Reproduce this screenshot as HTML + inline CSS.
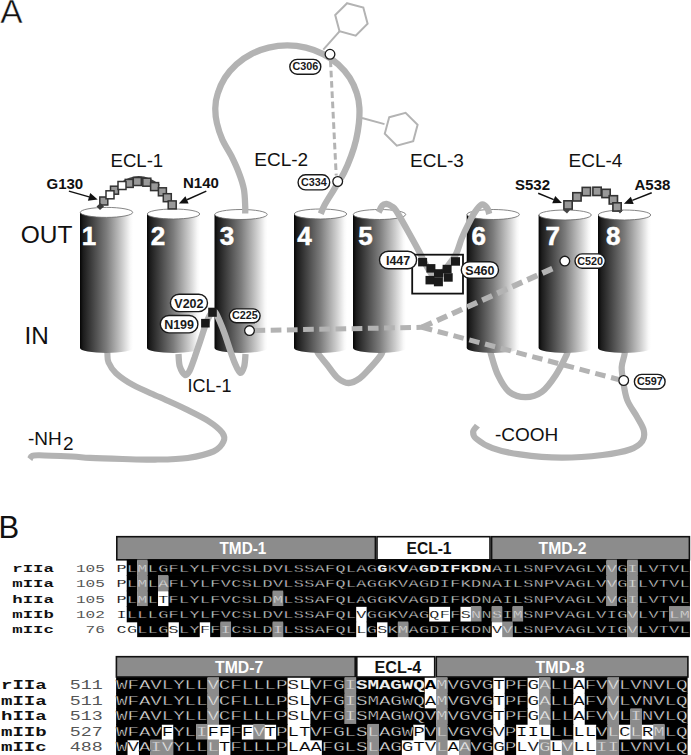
<!DOCTYPE html><html><head><meta charset="utf-8"><style>html,body{margin:0;padding:0;background:#fff;width:691px;height:755px;overflow:hidden}svg{display:block}</style></head><body>
<svg width="691" height="755" viewBox="0 0 691 755" font-family="Liberation Sans, sans-serif">
<defs><linearGradient id="cg" x1="0" x2="1" y1="0" y2="0"><stop offset="0" stop-color="#050505"/><stop offset="0.06" stop-color="#1c1c1c"/><stop offset="0.5" stop-color="#7c7c7c"/><stop offset="0.8" stop-color="#cdcdcd"/><stop offset="0.95" stop-color="#f8f8f8"/><stop offset="1" stop-color="#fff"/></linearGradient></defs>
<rect width="691" height="755" fill="#fff"/>
<text x="0.3" y="23.3" font-size="33.5" fill="#111" stroke="#fff" stroke-width="0.5">A</text>
<text x="-1.5" y="538.1" font-size="31" fill="#111">B</text>
<path d="M317.0,350.0 C317.3,350.7 317.0,351.9 318.7,354.3 C320.4,356.8 324.0,360.8 327.1,364.7 C330.2,368.6 334.0,374.8 337.6,377.8 C341.2,380.9 344.9,382.9 348.6,383.0 C352.3,383.1 356.1,380.9 359.7,378.4 C363.3,375.9 366.6,371.8 370.1,368.0 C373.6,364.2 378.4,358.6 380.5,355.6 C382.6,352.6 382.6,350.9 383.0,350.0" fill="none" stroke="#b3b3b3" stroke-width="6.3" stroke-linecap="butt" stroke-linejoin="round"/>
<path d="M490.5,350.0 C490.6,350.8 489.9,350.4 491.1,354.6 C492.4,358.8 495.0,369.0 498.0,375.2 C501.0,381.4 504.4,388.0 509.0,391.7 C513.6,395.4 520.0,397.2 525.5,397.2 C531.0,397.2 537.0,395.4 542.0,391.7 C547.0,388.0 551.6,381.4 555.7,375.2 C559.8,369.0 564.7,358.8 566.7,354.6 C568.7,350.4 567.4,350.8 567.5,350.0" fill="none" stroke="#b3b3b3" stroke-width="6.3" stroke-linecap="butt" stroke-linejoin="round"/>
<path d="M107.2,348.0 C107.2,348.9 107.2,351.3 107.4,353.7 C107.6,356.1 107.1,359.1 108.5,362.4 C109.9,365.6 111.8,369.4 116.0,373.2 C120.2,377.0 126.2,381.2 133.4,385.2 C140.7,389.2 150.8,393.1 159.5,397.1 C168.2,401.1 177.4,405.0 185.5,409.0 C193.6,413.0 202.2,417.0 208.3,421.0 C214.5,425.0 219.9,429.5 222.4,432.9 C224.9,436.3 224.9,438.5 223.5,441.6 C222.1,444.7 219.7,448.7 213.7,451.4 C207.7,454.1 197.5,456.5 187.7,457.9 C177.9,459.3 165.9,459.4 155.1,459.6 C144.2,459.8 133.4,459.3 122.6,459.0 C111.8,458.7 98.4,458.3 90.0,457.9 C81.6,457.5 80.5,456.9 72.1,456.5 C63.7,456.1 46.2,455.3 39.5,455.2 C32.8,455.1 33.6,455.3 32.0,456.0 C30.4,456.7 30.2,458.7 29.8,459.2" fill="none" stroke="#b3b3b3" stroke-width="6.1" stroke-linecap="butt" stroke-linejoin="round"/>
<path d="M625.0,349.0 C624.9,349.9 625.0,351.6 624.5,354.6 C624.0,357.6 621.9,362.6 621.7,367.0 C621.5,371.4 622.2,375.2 623.1,380.7 C624.0,386.2 624.9,394.0 627.2,400.0 C629.5,406.0 634.0,411.5 636.8,416.5 C639.5,421.5 642.8,426.1 643.7,430.2 C644.6,434.3 644.6,438.0 642.3,441.2 C640.0,444.4 636.6,447.2 630.0,449.5 C623.4,451.8 614.0,453.6 602.5,455.0 C591.0,456.4 575.0,457.8 561.2,457.7 C547.5,457.6 531.5,456.0 520.0,454.4 C508.6,452.8 499.8,450.8 492.5,448.1 C485.2,445.5 479.2,441.2 476.0,438.5 C472.8,435.8 473.0,433.8 473.2,431.6 C473.4,429.5 476.7,426.6 477.4,425.6" fill="none" stroke="#b3b3b3" stroke-width="6.2" stroke-linecap="butt" stroke-linejoin="round"/>
<path d="M80.0,212.4 L80.0,348.0 A26.5,5.0 0 0 0 133.0,348.0 L133.0,212.4 Z" fill="url(#cg)"/>
<ellipse cx="106.5" cy="212.4" rx="26.2" ry="5.0" fill="#fff" stroke="#666" stroke-width="0.8"/>
<path d="M147.0,214.0 L147.0,348.0 A26.5,5.0 0 0 0 200.0,348.0 L200.0,214.0 Z" fill="url(#cg)"/>
<ellipse cx="173.5" cy="214.0" rx="26.2" ry="5.0" fill="#fff" stroke="#666" stroke-width="0.8"/>
<path d="M214.5,214.5 L214.5,348.0 A26.5,5.0 0 0 0 267.5,348.0 L267.5,214.5 Z" fill="url(#cg)"/>
<ellipse cx="241.0" cy="214.5" rx="26.2" ry="5.0" fill="#fff" stroke="#666" stroke-width="0.8"/>
<path d="M294.0,214.0 L294.0,348.0 A26.5,5.0 0 0 0 347.0,348.0 L347.0,214.0 Z" fill="url(#cg)"/>
<ellipse cx="320.5" cy="214.0" rx="26.2" ry="5.0" fill="#fff" stroke="#666" stroke-width="0.8"/>
<path d="M353.0,214.5 L353.0,348.0 A26.5,5.0 0 0 0 406.0,348.0 L406.0,214.5 Z" fill="url(#cg)"/>
<ellipse cx="379.5" cy="214.5" rx="26.2" ry="5.0" fill="#fff" stroke="#666" stroke-width="0.8"/>
<path d="M466.7,214.5 L466.7,348.0 A26.5,5.0 0 0 0 519.7,348.0 L519.7,214.5 Z" fill="url(#cg)"/>
<ellipse cx="493.2" cy="214.5" rx="26.2" ry="5.0" fill="#fff" stroke="#666" stroke-width="0.8"/>
<path d="M538.6,215.0 L538.6,348.0 A26.5,5.0 0 0 0 591.6,348.0 L591.6,215.0 Z" fill="url(#cg)"/>
<ellipse cx="565.1" cy="215.0" rx="26.2" ry="5.0" fill="#fff" stroke="#666" stroke-width="0.8"/>
<path d="M598.0,215.0 L598.0,348.0 A26.5,5.0 0 0 0 651.0,348.0 L651.0,215.0 Z" fill="url(#cg)"/>
<ellipse cx="624.5" cy="215.0" rx="26.2" ry="5.0" fill="#fff" stroke="#666" stroke-width="0.8"/>
<text x="81.7" y="244.8" font-size="26" font-weight="bold" fill="#fff" stroke="#fff" stroke-width="0.5">1</text>
<text x="150.8" y="244.8" font-size="26" font-weight="bold" fill="#fff" stroke="#fff" stroke-width="0.5">2</text>
<text x="219.8" y="244.8" font-size="26" font-weight="bold" fill="#fff" stroke="#fff" stroke-width="0.5">3</text>
<text x="297.3" y="244.8" font-size="26" font-weight="bold" fill="#fff" stroke="#fff" stroke-width="0.5">4</text>
<text x="358.2" y="244.8" font-size="26" font-weight="bold" fill="#fff" stroke="#fff" stroke-width="0.5">5</text>
<text x="471.5" y="244.8" font-size="26" font-weight="bold" fill="#fff" stroke="#fff" stroke-width="0.5">6</text>
<text x="545.5" y="244.8" font-size="26" font-weight="bold" fill="#fff" stroke="#fff" stroke-width="0.5">7</text>
<text x="606.0" y="244.8" font-size="26" font-weight="bold" fill="#fff" stroke="#fff" stroke-width="0.5">8</text>
<path d="M245.2,213.5 C245.2,212.2 245.4,209.9 245.2,205.9 C245.0,201.9 244.9,194.8 243.9,189.3 C242.9,183.8 241.0,178.3 238.9,172.8 C236.8,167.3 234.2,161.7 231.5,156.2 C228.8,150.7 224.8,145.2 222.4,139.7 C220.0,134.2 218.1,128.4 216.9,123.1 C215.7,117.8 215.2,113.0 215.3,108.0 C215.4,103.0 216.1,98.3 217.8,93.3 C219.4,88.2 221.8,82.5 224.9,77.7 C228.1,72.9 232.0,68.3 236.4,64.3 C240.8,60.4 245.9,56.8 251.3,54.1 C256.7,51.3 262.7,49.0 268.7,47.6 C274.7,46.2 281.1,45.4 287.3,45.4 C293.5,45.4 299.9,46.2 305.9,47.6 C311.9,49.0 317.9,51.3 323.3,54.1 C328.7,56.8 333.8,60.4 338.2,64.3 C342.6,68.3 346.5,72.9 349.7,77.7 C352.8,82.5 355.2,88.2 356.8,93.3 C358.5,98.3 359.1,103.0 359.4,108.0 C359.7,113.0 359.4,117.8 358.9,123.1 C358.3,128.4 357.4,134.2 356.1,139.7 C354.8,145.2 353.1,150.7 351.1,156.2 C349.1,161.7 346.8,167.3 344.0,172.8 C341.2,178.3 337.4,183.8 334.1,189.3 C330.8,194.8 326.3,201.8 324.1,205.9 C321.9,210.0 321.4,212.5 320.8,213.8" fill="none" stroke="#b3b3b3" stroke-width="6.3" stroke-linecap="butt" stroke-linejoin="round"/>
<path d="M378.7,212.2 C379.3,211.1 380.9,207.0 382.2,205.6 C383.5,204.2 384.9,203.8 386.5,203.9 C388.1,204.1 390.4,205.4 392.0,206.5 C393.6,207.6 393.9,207.4 396.0,210.6 C398.1,213.8 401.8,220.3 404.7,225.4 C407.6,230.5 410.9,236.5 413.4,241.0 C415.9,245.5 417.4,248.3 419.5,252.3 C421.6,256.3 423.9,261.2 426.0,265.0 C428.1,268.8 430.2,272.5 432.0,275.0 C433.8,277.5 436.2,279.2 437.0,280.0" fill="none" stroke="#b3b3b3" stroke-width="6.3" stroke-linecap="butt" stroke-linejoin="round"/>
<path d="M437.0,280.0 C438.7,277.8 443.8,271.3 447.0,267.0 C450.2,262.7 453.7,258.8 456.1,254.0 C458.6,249.2 459.6,243.5 461.7,238.4 C463.8,233.3 466.4,227.9 468.6,223.6 C470.8,219.3 472.5,215.6 474.7,212.4 C476.9,209.2 479.6,205.2 481.7,204.5 C483.8,203.8 486.1,206.6 487.3,208.2 C488.6,209.8 488.9,213.0 489.2,214.0" fill="none" stroke="#b3b3b3" stroke-width="6.3" stroke-linecap="butt" stroke-linejoin="round"/>
<path d="M178.5,354.0 C178.7,356.1 178.7,362.9 179.8,366.4 C180.9,369.9 183.4,374.1 185.0,374.9 C186.6,375.7 187.9,373.9 189.5,371.0 C191.1,368.1 192.9,362.2 194.7,357.3 C196.4,352.4 198.2,346.9 200.0,341.7 C201.8,336.5 203.5,330.6 205.2,326.0 C206.9,321.4 208.8,316.7 210.4,314.3 C212.0,311.9 213.4,310.6 214.9,311.7 C216.4,312.8 217.9,317.1 219.5,320.8 C221.1,324.5 223.0,329.1 224.7,333.9 C226.4,338.7 228.2,344.5 229.9,349.5 C231.6,354.5 233.4,359.9 235.1,363.8 C236.8,367.7 238.8,372.5 240.3,372.9 C241.8,373.3 243.3,369.5 244.2,366.4 C245.1,363.2 245.3,356.1 245.5,354.0" fill="none" stroke="#b3b3b3" stroke-width="6.3" stroke-linecap="butt" stroke-linejoin="round"/>
<polygon points="347.1,3.2 363.3,7.5 367.6,23.7 355.7,35.6 339.5,31.3 335.2,15.1" fill="none" stroke="#b3b3b3" stroke-width="2"/>
<line x1="323.3" y1="49.6" x2="339.5" y2="31.4" stroke="#b3b3b3" stroke-width="2"/>
<polygon points="389.2,117.2 405.6,112.8 417.6,124.8 413.2,141.2 396.8,145.6 384.8,133.6" fill="none" stroke="#b3b3b3" stroke-width="2"/>
<line x1="362" y1="118" x2="384.5" y2="124.1" stroke="#b3b3b3" stroke-width="2"/>
<line x1="330.5" y1="60.5" x2="336.2" y2="175.5" stroke="#b3b3b3" stroke-width="3.0" stroke-dasharray="6.6 3.7"/>
<line x1="254.5" y1="330.5" x2="422.0" y2="327.3" stroke="#b3b3b3" stroke-width="5.0" stroke-dasharray="10.7 5.5"/>
<line x1="422.0" y1="327.3" x2="557.0" y2="266.5" stroke="#b3b3b3" stroke-width="5.6" stroke-dasharray="11 5.5"/>
<line x1="422.0" y1="327.3" x2="618.5" y2="379.5" stroke="#b3b3b3" stroke-width="5.0" stroke-dasharray="10.5 5.8"/>
<rect x="412.2" y="254.7" width="50.8" height="38.9" fill="none" stroke="#111" stroke-width="1.8"/>
<rect x="418.1" y="257.9" width="9" height="8.5" fill="#1a1a1a"/>
<rect x="426.4" y="264.1" width="9" height="8.5" fill="#1a1a1a"/>
<rect x="451.0" y="257.2" width="9" height="8.5" fill="#1a1a1a"/>
<rect x="442.6" y="264.8" width="9" height="8.5" fill="#1a1a1a"/>
<rect x="434.0" y="269.2" width="9" height="8.5" fill="#1a1a1a"/>
<rect x="425.5" y="275.9" width="9" height="8.5" fill="#1a1a1a"/>
<rect x="433.9" y="277.8" width="9" height="8.5" fill="#1a1a1a"/>
<rect x="443.7" y="273.2" width="9" height="8.5" fill="#1a1a1a"/>
<path d="M121,184 Q140,170 159,186" fill="none" stroke="#444" stroke-width="3"/>
<rect x="99.8" y="197.0" width="8" height="8" fill="#999" stroke="#333" stroke-width="1.5"/>
<rect x="110.5" y="186.2" width="8" height="8" fill="#999" stroke="#333" stroke-width="1.5"/>
<rect x="106.0" y="190.8" width="8" height="8" fill="#fff" stroke="#333" stroke-width="1.5"/>
<rect x="125.2" y="179.4" width="8" height="8" fill="#999" stroke="#333" stroke-width="1.5"/>
<rect x="118.0" y="181.5" width="8" height="8" fill="#fff" stroke="#333" stroke-width="1.5"/>
<rect x="133.3" y="177.5" width="8" height="8" fill="#999" stroke="#333" stroke-width="1.5"/>
<rect x="142.8" y="178.2" width="8" height="8" fill="#999" stroke="#333" stroke-width="1.5"/>
<rect x="150.6" y="182.6" width="8" height="8" fill="#999" stroke="#333" stroke-width="1.5"/>
<rect x="158.4" y="187.8" width="8" height="8" fill="#999" stroke="#333" stroke-width="1.5"/>
<rect x="163.3" y="193.7" width="8" height="8" fill="#999" stroke="#333" stroke-width="1.5"/>
<rect x="168.2" y="200.9" width="8" height="8" fill="#999" stroke="#333" stroke-width="1.5"/>
<polygon points="96.5,206.5 100.5,203 104,206.5 100,210" fill="#3a3a3a"/>
<rect x="563.9" y="200.8" width="8.3" height="8.3" fill="#999" stroke="#333" stroke-width="1.6"/>
<rect x="572.8" y="192.7" width="8.3" height="8.3" fill="#999" stroke="#333" stroke-width="1.6"/>
<rect x="582.2" y="187.4" width="8.3" height="8.3" fill="#999" stroke="#333" stroke-width="1.6"/>
<rect x="592.9" y="187.2" width="8.3" height="8.3" fill="#999" stroke="#333" stroke-width="1.6"/>
<rect x="601.9" y="189.3" width="8.3" height="8.3" fill="#999" stroke="#333" stroke-width="1.6"/>
<rect x="609.2" y="195.7" width="8.3" height="8.3" fill="#999" stroke="#333" stroke-width="1.6"/>
<rect x="612.9" y="202.8" width="8.3" height="8.3" fill="#999" stroke="#333" stroke-width="1.6"/>
<polygon points="563,210 570,210 567,213.5" fill="#444"/>
<polygon points="617,210 623,210 620,213.5" fill="#444"/>
<line x1="68.9" y1="191.1" x2="89.1" y2="196.9" stroke="#111" stroke-width="1.5"/>
<polygon points="97.7,199.4 87.9,200.8 90.2,193.1" fill="#111"/>
<line x1="206.3" y1="191.1" x2="187.0" y2="199.8" stroke="#111" stroke-width="1.5"/>
<polygon points="178.8,203.5 185.4,196.2 188.6,203.4" fill="#111"/>
<line x1="538.2" y1="193.3" x2="553.7" y2="199.6" stroke="#111" stroke-width="1.5"/>
<polygon points="562.0,203.0 552.2,203.3 555.2,195.9" fill="#111"/>
<line x1="651.7" y1="192.8" x2="632.3" y2="200.4" stroke="#111" stroke-width="1.5"/>
<polygon points="623.9,203.7 630.8,196.7 633.7,204.1" fill="#111"/>
<circle cx="330.0" cy="54.3" r="4.85" fill="#fff" stroke="#1a1a1a" stroke-width="1.3"/>
<circle cx="337.7" cy="181.5" r="4.85" fill="#fff" stroke="#1a1a1a" stroke-width="1.3"/>
<circle cx="249.5" cy="330.6" r="4.85" fill="#fff" stroke="#1a1a1a" stroke-width="1.3"/>
<circle cx="564.8" cy="261.1" r="4.85" fill="#fff" stroke="#1a1a1a" stroke-width="1.3"/>
<circle cx="623.7" cy="380.5" r="4.85" fill="#fff" stroke="#1a1a1a" stroke-width="1.3"/>
<rect x="289.8" y="59.4" width="31.0" height="14.8" rx="7.4" fill="#fff" stroke="#1a1a1a" stroke-width="1.4"/>
<text x="305.3" y="70.2" font-size="10.8" font-weight="bold" text-anchor="middle" fill="#1a1a1a">C306</text>
<rect x="298.1" y="174.8" width="31.6" height="15.1" rx="7.5" fill="#fff" stroke="#1a1a1a" stroke-width="1.4"/>
<text x="313.9" y="185.8" font-size="10.8" font-weight="bold" text-anchor="middle" fill="#1a1a1a">C334</text>
<rect x="229.4" y="308.9" width="30.7" height="13.8" rx="6.9" fill="#fff" stroke="#1a1a1a" stroke-width="1.4"/>
<text x="244.8" y="319.2" font-size="10.8" font-weight="bold" text-anchor="middle" fill="#1a1a1a">C225</text>
<rect x="575.0" y="253.9" width="30.3" height="14.3" rx="7.1" fill="#fff" stroke="#1a1a1a" stroke-width="1.4"/>
<text x="590.1" y="264.5" font-size="10.8" font-weight="bold" text-anchor="middle" fill="#1a1a1a">C520</text>
<rect x="634.4" y="374.4" width="30.7" height="14.6" rx="7.3" fill="#fff" stroke="#1a1a1a" stroke-width="1.4"/>
<text x="649.8" y="385.1" font-size="10.8" font-weight="bold" text-anchor="middle" fill="#1a1a1a">C597</text>
<rect x="170.4" y="294.2" width="37.1" height="17.4" rx="8.7" fill="#fff" stroke="#1a1a1a" stroke-width="1.4"/>
<text x="188.9" y="308.1" font-size="12.5" font-weight="bold" text-anchor="middle" fill="#1a1a1a">V202</text>
<rect x="160.3" y="315.5" width="37.6" height="17.4" rx="8.7" fill="#fff" stroke="#1a1a1a" stroke-width="1.4"/>
<text x="179.1" y="329.4" font-size="12.5" font-weight="bold" text-anchor="middle" fill="#1a1a1a">N199</text>
<rect x="379.5" y="251.3" width="37.1" height="17.5" rx="8.8" fill="#fff" stroke="#1a1a1a" stroke-width="1.4"/>
<text x="398.1" y="265.3" font-size="12.5" font-weight="bold" text-anchor="middle" fill="#1a1a1a">I447</text>
<rect x="461.3" y="261.7" width="37.2" height="16.5" rx="8.2" fill="#fff" stroke="#1a1a1a" stroke-width="1.4"/>
<text x="479.9" y="275.2" font-size="12.5" font-weight="bold" text-anchor="middle" fill="#1a1a1a">S460</text>
<rect x="201.1" y="318.9" width="8.6" height="8.6" fill="#1a1a1a"/>
<rect x="208.2" y="307.7" width="8.6" height="9.1" fill="#1a1a1a"/>
<text x="20.8" y="242.6" font-size="24.5" fill="#111">OUT</text>
<text x="24.6" y="344.0" font-size="24.3" fill="#111">IN</text>
<text x="110.5" y="167.3" font-size="18.6" fill="#111">ECL-1</text>
<text x="254.3" y="166.3" font-size="19.0" fill="#111">ECL-2</text>
<text x="410.0" y="166.8" font-size="19.0" fill="#111">ECL-3</text>
<text x="568.5" y="167.3" font-size="19.0" fill="#111">ECL-4</text>
<text x="187.5" y="392.3" font-size="18.0" fill="#111">ICL-1</text>
<text x="28.0" y="444.8" font-size="19.0" fill="#111">-NH</text>
<text x="63.0" y="449.7" font-size="19.0" fill="#111">2</text>
<text x="495.0" y="441.2" font-size="19.0" fill="#111">-COOH</text>
<text x="46.5" y="188.6" font-size="15.0" font-weight="bold" fill="#111">G130</text>
<text x="183.0" y="188.0" font-size="15.0" font-weight="bold" fill="#111">N140</text>
<text x="515.0" y="189.8" font-size="15.0" font-weight="bold" fill="#111">S532</text>
<text x="634.5" y="189.5" font-size="15.0" font-weight="bold" fill="#111">A538</text>
<rect x="116.8" y="536.7" width="258.6" height="23.1" fill="#8c8c8c" stroke="#111" stroke-width="1.6"/>
<rect x="377.0" y="536.7" width="113.0" height="23.1" fill="#fff" stroke="#111" stroke-width="1.6"/>
<rect x="491.6" y="536.7" width="197.8" height="23.1" fill="#8c8c8c" stroke="#111" stroke-width="1.6"/>
<text x="219.5" y="554.1" font-size="16.8" font-weight="bold" fill="#fff" textLength="46.9" lengthAdjust="spacingAndGlyphs">TMD-1</text>
<text x="406.5" y="554.1" font-size="16.8" font-weight="bold" fill="#111" textLength="45.0" lengthAdjust="spacingAndGlyphs">ECL-1</text>
<text x="538.6" y="554.1" font-size="16.8" font-weight="bold" fill="#fff" textLength="48.0" lengthAdjust="spacingAndGlyphs">TMD-2</text>
<rect x="126.73" y="559.60" width="10.43" height="16.28" fill="#000"/>
<rect x="137.16" y="559.60" width="10.43" height="16.28" fill="#8c8c8c"/>
<rect x="147.59" y="559.60" width="458.92" height="16.28" fill="#000"/>
<rect x="606.51" y="559.60" width="10.43" height="16.28" fill="#8c8c8c"/>
<rect x="616.94" y="559.60" width="10.43" height="16.28" fill="#000"/>
<rect x="627.37" y="559.60" width="10.43" height="16.28" fill="#8c8c8c"/>
<rect x="637.80" y="559.60" width="52.15" height="16.28" fill="#000"/>
<rect x="126.73" y="575.08" width="10.43" height="16.28" fill="#000"/>
<rect x="137.16" y="575.08" width="10.43" height="16.28" fill="#8c8c8c"/>
<rect x="147.59" y="575.08" width="10.43" height="16.28" fill="#000"/>
<rect x="158.02" y="575.08" width="10.43" height="16.28" fill="#8c8c8c"/>
<rect x="168.45" y="575.08" width="438.06" height="16.28" fill="#000"/>
<rect x="606.51" y="575.08" width="10.43" height="16.28" fill="#8c8c8c"/>
<rect x="616.94" y="575.08" width="10.43" height="16.28" fill="#000"/>
<rect x="627.37" y="575.08" width="10.43" height="16.28" fill="#8c8c8c"/>
<rect x="637.80" y="575.08" width="52.15" height="16.28" fill="#000"/>
<rect x="126.73" y="590.56" width="10.43" height="16.28" fill="#000"/>
<rect x="137.16" y="590.56" width="10.43" height="16.28" fill="#8c8c8c"/>
<rect x="147.59" y="590.56" width="10.43" height="16.28" fill="#000"/>
<rect x="168.45" y="590.56" width="104.30" height="16.28" fill="#000"/>
<rect x="272.75" y="590.56" width="10.43" height="16.28" fill="#8c8c8c"/>
<rect x="283.18" y="590.56" width="323.33" height="16.28" fill="#000"/>
<rect x="606.51" y="590.56" width="10.43" height="16.28" fill="#8c8c8c"/>
<rect x="616.94" y="590.56" width="10.43" height="16.28" fill="#000"/>
<rect x="627.37" y="590.56" width="10.43" height="16.28" fill="#8c8c8c"/>
<rect x="637.80" y="590.56" width="52.15" height="16.28" fill="#000"/>
<rect x="126.73" y="606.04" width="229.46" height="16.28" fill="#000"/>
<rect x="366.62" y="606.04" width="62.58" height="16.28" fill="#000"/>
<rect x="450.06" y="606.04" width="10.43" height="16.28" fill="#000"/>
<rect x="470.92" y="606.04" width="10.43" height="16.28" fill="#8c8c8c"/>
<rect x="481.35" y="606.04" width="10.43" height="16.28" fill="#000"/>
<rect x="491.78" y="606.04" width="10.43" height="16.28" fill="#8c8c8c"/>
<rect x="502.21" y="606.04" width="10.43" height="16.28" fill="#000"/>
<rect x="512.64" y="606.04" width="10.43" height="16.28" fill="#8c8c8c"/>
<rect x="523.07" y="606.04" width="104.30" height="16.28" fill="#000"/>
<rect x="627.37" y="606.04" width="10.43" height="16.28" fill="#8c8c8c"/>
<rect x="637.80" y="606.04" width="31.29" height="16.28" fill="#000"/>
<rect x="669.09" y="606.04" width="20.86" height="16.28" fill="#8c8c8c"/>
<rect x="137.16" y="621.52" width="31.29" height="15.60" fill="#000"/>
<rect x="178.88" y="621.52" width="20.86" height="15.60" fill="#000"/>
<rect x="210.17" y="621.52" width="10.43" height="15.60" fill="#000"/>
<rect x="220.60" y="621.52" width="10.43" height="15.60" fill="#8c8c8c"/>
<rect x="231.03" y="621.52" width="41.72" height="15.60" fill="#000"/>
<rect x="272.75" y="621.52" width="10.43" height="15.60" fill="#8c8c8c"/>
<rect x="283.18" y="621.52" width="73.01" height="15.60" fill="#000"/>
<rect x="366.62" y="621.52" width="10.43" height="15.60" fill="#000"/>
<rect x="387.48" y="621.52" width="10.43" height="15.60" fill="#000"/>
<rect x="397.91" y="621.52" width="10.43" height="15.60" fill="#8c8c8c"/>
<rect x="408.34" y="621.52" width="83.44" height="15.60" fill="#000"/>
<rect x="502.21" y="621.52" width="10.43" height="15.60" fill="#8c8c8c"/>
<rect x="512.64" y="621.52" width="114.73" height="15.60" fill="#000"/>
<rect x="627.37" y="621.52" width="10.43" height="15.60" fill="#8c8c8c"/>
<rect x="637.80" y="621.52" width="52.15" height="15.60" fill="#000"/>
<g transform="translate(116.30,0) scale(1.420,1)">
<text y="571.90" font-family="Liberation Mono, monospace" font-size="11.80" text-anchor="middle" stroke-width="0.35"><tspan x="3.67" fill="#000" stroke="#fff" stroke-width="0.15">P</tspan><tspan x="11.02" fill="#ececec" stroke="#000">L</tspan><tspan x="18.36" fill="#eeeeee" stroke="#8c8c8c">M</tspan><tspan x="25.71" fill="#ececec" stroke="#000">L</tspan><tspan x="33.05" fill="#ececec" stroke="#000">G</tspan><tspan x="40.40" fill="#ececec" stroke="#000">F</tspan><tspan x="47.74" fill="#ececec" stroke="#000">L</tspan><tspan x="55.09" fill="#ececec" stroke="#000">Y</tspan><tspan x="62.43" fill="#ececec" stroke="#000">L</tspan><tspan x="69.78" fill="#ececec" stroke="#000">F</tspan><tspan x="77.12" fill="#ececec" stroke="#000">V</tspan><tspan x="84.47" fill="#ececec" stroke="#000">C</tspan><tspan x="91.81" fill="#ececec" stroke="#000">S</tspan><tspan x="99.16" fill="#ececec" stroke="#000">L</tspan><tspan x="106.50" fill="#ececec" stroke="#000">D</tspan><tspan x="113.85" fill="#ececec" stroke="#000">V</tspan><tspan x="121.19" fill="#ececec" stroke="#000">L</tspan><tspan x="128.54" fill="#ececec" stroke="#000">S</tspan><tspan x="135.88" fill="#ececec" stroke="#000">S</tspan><tspan x="143.23" fill="#ececec" stroke="#000">A</tspan><tspan x="150.57" fill="#ececec" stroke="#000">F</tspan><tspan x="157.92" fill="#ececec" stroke="#000">Q</tspan><tspan x="165.26" fill="#ececec" stroke="#000">L</tspan><tspan x="172.61" fill="#ececec" stroke="#000">A</tspan><tspan x="179.95" fill="#ececec" stroke="#000">G</tspan><tspan x="187.30" fill="#ececec" stroke="#000" font-weight="bold" stroke-width="0">G</tspan><tspan x="194.64" fill="#ececec" stroke="#000">K</tspan><tspan x="201.99" fill="#ececec" stroke="#000" font-weight="bold" stroke-width="0">V</tspan><tspan x="209.33" fill="#ececec" stroke="#000">A</tspan><tspan x="216.68" fill="#ececec" stroke="#000" font-weight="bold" stroke-width="0">G</tspan><tspan x="224.02" fill="#ececec" stroke="#000" font-weight="bold" stroke-width="0">D</tspan><tspan x="231.37" fill="#ececec" stroke="#000" font-weight="bold" stroke-width="0">I</tspan><tspan x="238.71" fill="#ececec" stroke="#000" font-weight="bold" stroke-width="0">F</tspan><tspan x="246.06" fill="#ececec" stroke="#000" font-weight="bold" stroke-width="0">K</tspan><tspan x="253.40" fill="#ececec" stroke="#000" font-weight="bold" stroke-width="0">D</tspan><tspan x="260.75" fill="#ececec" stroke="#000" font-weight="bold" stroke-width="0">N</tspan><tspan x="268.10" fill="#ececec" stroke="#000">A</tspan><tspan x="275.44" fill="#ececec" stroke="#000">I</tspan><tspan x="282.79" fill="#ececec" stroke="#000">L</tspan><tspan x="290.13" fill="#ececec" stroke="#000">S</tspan><tspan x="297.48" fill="#ececec" stroke="#000">N</tspan><tspan x="304.82" fill="#ececec" stroke="#000">P</tspan><tspan x="312.17" fill="#ececec" stroke="#000">V</tspan><tspan x="319.51" fill="#ececec" stroke="#000">A</tspan><tspan x="326.86" fill="#ececec" stroke="#000">G</tspan><tspan x="334.20" fill="#ececec" stroke="#000">L</tspan><tspan x="341.55" fill="#ececec" stroke="#000">V</tspan><tspan x="348.89" fill="#eeeeee" stroke="#8c8c8c">V</tspan><tspan x="356.24" fill="#ececec" stroke="#000">G</tspan><tspan x="363.58" fill="#eeeeee" stroke="#8c8c8c">I</tspan><tspan x="370.93" fill="#ececec" stroke="#000">L</tspan><tspan x="378.27" fill="#ececec" stroke="#000">V</tspan><tspan x="385.62" fill="#ececec" stroke="#000">T</tspan><tspan x="392.96" fill="#ececec" stroke="#000">V</tspan><tspan x="400.31" fill="#ececec" stroke="#000">L</tspan></text>
</g>
<g transform="translate(12.30,0) scale(1.470,1)"><text y="571.90" x="0" font-family="Liberation Mono, monospace" font-size="11.80" font-weight="bold" fill="#111">rIIa</text></g>
<g transform="translate(104.80,0) scale(1.360,1)"><text y="571.90" x="0" font-family="Liberation Mono, monospace" font-size="11.80" fill="#555" text-anchor="end">105</text></g>
<g transform="translate(116.30,0) scale(1.420,1)">
<text y="587.25" font-family="Liberation Mono, monospace" font-size="11.80" text-anchor="middle" stroke-width="0.35"><tspan x="3.67" fill="#000" stroke="#fff" stroke-width="0.15">P</tspan><tspan x="11.02" fill="#ececec" stroke="#000">L</tspan><tspan x="18.36" fill="#eeeeee" stroke="#8c8c8c">M</tspan><tspan x="25.71" fill="#ececec" stroke="#000">L</tspan><tspan x="33.05" fill="#eeeeee" stroke="#8c8c8c">A</tspan><tspan x="40.40" fill="#ececec" stroke="#000">F</tspan><tspan x="47.74" fill="#ececec" stroke="#000">L</tspan><tspan x="55.09" fill="#ececec" stroke="#000">Y</tspan><tspan x="62.43" fill="#ececec" stroke="#000">L</tspan><tspan x="69.78" fill="#ececec" stroke="#000">F</tspan><tspan x="77.12" fill="#ececec" stroke="#000">V</tspan><tspan x="84.47" fill="#ececec" stroke="#000">C</tspan><tspan x="91.81" fill="#ececec" stroke="#000">S</tspan><tspan x="99.16" fill="#ececec" stroke="#000">L</tspan><tspan x="106.50" fill="#ececec" stroke="#000">D</tspan><tspan x="113.85" fill="#ececec" stroke="#000">V</tspan><tspan x="121.19" fill="#ececec" stroke="#000">L</tspan><tspan x="128.54" fill="#ececec" stroke="#000">S</tspan><tspan x="135.88" fill="#ececec" stroke="#000">S</tspan><tspan x="143.23" fill="#ececec" stroke="#000">A</tspan><tspan x="150.57" fill="#ececec" stroke="#000">F</tspan><tspan x="157.92" fill="#ececec" stroke="#000">Q</tspan><tspan x="165.26" fill="#ececec" stroke="#000">L</tspan><tspan x="172.61" fill="#ececec" stroke="#000">A</tspan><tspan x="179.95" fill="#ececec" stroke="#000">G</tspan><tspan x="187.30" fill="#ececec" stroke="#000">G</tspan><tspan x="194.64" fill="#ececec" stroke="#000">K</tspan><tspan x="201.99" fill="#ececec" stroke="#000">V</tspan><tspan x="209.33" fill="#ececec" stroke="#000">A</tspan><tspan x="216.68" fill="#ececec" stroke="#000">G</tspan><tspan x="224.02" fill="#ececec" stroke="#000">D</tspan><tspan x="231.37" fill="#ececec" stroke="#000">I</tspan><tspan x="238.71" fill="#ececec" stroke="#000">F</tspan><tspan x="246.06" fill="#ececec" stroke="#000">K</tspan><tspan x="253.40" fill="#ececec" stroke="#000">D</tspan><tspan x="260.75" fill="#ececec" stroke="#000">N</tspan><tspan x="268.10" fill="#ececec" stroke="#000">A</tspan><tspan x="275.44" fill="#ececec" stroke="#000">I</tspan><tspan x="282.79" fill="#ececec" stroke="#000">L</tspan><tspan x="290.13" fill="#ececec" stroke="#000">S</tspan><tspan x="297.48" fill="#ececec" stroke="#000">N</tspan><tspan x="304.82" fill="#ececec" stroke="#000">P</tspan><tspan x="312.17" fill="#ececec" stroke="#000">V</tspan><tspan x="319.51" fill="#ececec" stroke="#000">A</tspan><tspan x="326.86" fill="#ececec" stroke="#000">G</tspan><tspan x="334.20" fill="#ececec" stroke="#000">L</tspan><tspan x="341.55" fill="#ececec" stroke="#000">V</tspan><tspan x="348.89" fill="#eeeeee" stroke="#8c8c8c">V</tspan><tspan x="356.24" fill="#ececec" stroke="#000">G</tspan><tspan x="363.58" fill="#eeeeee" stroke="#8c8c8c">I</tspan><tspan x="370.93" fill="#ececec" stroke="#000">L</tspan><tspan x="378.27" fill="#ececec" stroke="#000">V</tspan><tspan x="385.62" fill="#ececec" stroke="#000">T</tspan><tspan x="392.96" fill="#ececec" stroke="#000">V</tspan><tspan x="400.31" fill="#ececec" stroke="#000">L</tspan></text>
</g>
<g transform="translate(12.30,0) scale(1.470,1)"><text y="587.25" x="0" font-family="Liberation Mono, monospace" font-size="11.80" font-weight="bold" fill="#111">mIIa</text></g>
<g transform="translate(104.80,0) scale(1.360,1)"><text y="587.25" x="0" font-family="Liberation Mono, monospace" font-size="11.80" fill="#555" text-anchor="end">105</text></g>
<g transform="translate(116.30,0) scale(1.420,1)">
<text y="602.60" font-family="Liberation Mono, monospace" font-size="11.80" text-anchor="middle" stroke-width="0.35"><tspan x="3.67" fill="#000" stroke="#fff" stroke-width="0.15">P</tspan><tspan x="11.02" fill="#ececec" stroke="#000">L</tspan><tspan x="18.36" fill="#eeeeee" stroke="#8c8c8c">M</tspan><tspan x="25.71" fill="#ececec" stroke="#000">L</tspan><tspan x="33.05" fill="#000" stroke="#fff" stroke-width="0.15">T</tspan><tspan x="40.40" fill="#ececec" stroke="#000">F</tspan><tspan x="47.74" fill="#ececec" stroke="#000">L</tspan><tspan x="55.09" fill="#ececec" stroke="#000">Y</tspan><tspan x="62.43" fill="#ececec" stroke="#000">L</tspan><tspan x="69.78" fill="#ececec" stroke="#000">F</tspan><tspan x="77.12" fill="#ececec" stroke="#000">V</tspan><tspan x="84.47" fill="#ececec" stroke="#000">C</tspan><tspan x="91.81" fill="#ececec" stroke="#000">S</tspan><tspan x="99.16" fill="#ececec" stroke="#000">L</tspan><tspan x="106.50" fill="#ececec" stroke="#000">D</tspan><tspan x="113.85" fill="#eeeeee" stroke="#8c8c8c">M</tspan><tspan x="121.19" fill="#ececec" stroke="#000">L</tspan><tspan x="128.54" fill="#ececec" stroke="#000">S</tspan><tspan x="135.88" fill="#ececec" stroke="#000">S</tspan><tspan x="143.23" fill="#ececec" stroke="#000">A</tspan><tspan x="150.57" fill="#ececec" stroke="#000">F</tspan><tspan x="157.92" fill="#ececec" stroke="#000">Q</tspan><tspan x="165.26" fill="#ececec" stroke="#000">L</tspan><tspan x="172.61" fill="#ececec" stroke="#000">A</tspan><tspan x="179.95" fill="#ececec" stroke="#000">G</tspan><tspan x="187.30" fill="#ececec" stroke="#000">G</tspan><tspan x="194.64" fill="#ececec" stroke="#000">K</tspan><tspan x="201.99" fill="#ececec" stroke="#000">V</tspan><tspan x="209.33" fill="#ececec" stroke="#000">A</tspan><tspan x="216.68" fill="#ececec" stroke="#000">G</tspan><tspan x="224.02" fill="#ececec" stroke="#000">D</tspan><tspan x="231.37" fill="#ececec" stroke="#000">I</tspan><tspan x="238.71" fill="#ececec" stroke="#000">F</tspan><tspan x="246.06" fill="#ececec" stroke="#000">K</tspan><tspan x="253.40" fill="#ececec" stroke="#000">D</tspan><tspan x="260.75" fill="#ececec" stroke="#000">N</tspan><tspan x="268.10" fill="#ececec" stroke="#000">A</tspan><tspan x="275.44" fill="#ececec" stroke="#000">I</tspan><tspan x="282.79" fill="#ececec" stroke="#000">L</tspan><tspan x="290.13" fill="#ececec" stroke="#000">S</tspan><tspan x="297.48" fill="#ececec" stroke="#000">N</tspan><tspan x="304.82" fill="#ececec" stroke="#000">P</tspan><tspan x="312.17" fill="#ececec" stroke="#000">V</tspan><tspan x="319.51" fill="#ececec" stroke="#000">A</tspan><tspan x="326.86" fill="#ececec" stroke="#000">G</tspan><tspan x="334.20" fill="#ececec" stroke="#000">L</tspan><tspan x="341.55" fill="#ececec" stroke="#000">V</tspan><tspan x="348.89" fill="#eeeeee" stroke="#8c8c8c">V</tspan><tspan x="356.24" fill="#ececec" stroke="#000">G</tspan><tspan x="363.58" fill="#eeeeee" stroke="#8c8c8c">I</tspan><tspan x="370.93" fill="#ececec" stroke="#000">L</tspan><tspan x="378.27" fill="#ececec" stroke="#000">V</tspan><tspan x="385.62" fill="#ececec" stroke="#000">T</tspan><tspan x="392.96" fill="#ececec" stroke="#000">V</tspan><tspan x="400.31" fill="#ececec" stroke="#000">L</tspan></text>
</g>
<g transform="translate(12.30,0) scale(1.470,1)"><text y="602.60" x="0" font-family="Liberation Mono, monospace" font-size="11.80" font-weight="bold" fill="#111">hIIa</text></g>
<g transform="translate(104.80,0) scale(1.360,1)"><text y="602.60" x="0" font-family="Liberation Mono, monospace" font-size="11.80" fill="#555" text-anchor="end">105</text></g>
<g transform="translate(116.30,0) scale(1.420,1)">
<text y="617.95" font-family="Liberation Mono, monospace" font-size="11.80" text-anchor="middle" stroke-width="0.35"><tspan x="3.67" fill="#000" stroke="#fff" stroke-width="0.15">I</tspan><tspan x="11.02" fill="#ececec" stroke="#000">L</tspan><tspan x="18.36" fill="#ececec" stroke="#000">L</tspan><tspan x="25.71" fill="#ececec" stroke="#000">L</tspan><tspan x="33.05" fill="#ececec" stroke="#000">G</tspan><tspan x="40.40" fill="#ececec" stroke="#000">F</tspan><tspan x="47.74" fill="#ececec" stroke="#000">L</tspan><tspan x="55.09" fill="#ececec" stroke="#000">Y</tspan><tspan x="62.43" fill="#ececec" stroke="#000">L</tspan><tspan x="69.78" fill="#ececec" stroke="#000">F</tspan><tspan x="77.12" fill="#ececec" stroke="#000">V</tspan><tspan x="84.47" fill="#ececec" stroke="#000">C</tspan><tspan x="91.81" fill="#ececec" stroke="#000">S</tspan><tspan x="99.16" fill="#ececec" stroke="#000">L</tspan><tspan x="106.50" fill="#ececec" stroke="#000">D</tspan><tspan x="113.85" fill="#ececec" stroke="#000">V</tspan><tspan x="121.19" fill="#ececec" stroke="#000">L</tspan><tspan x="128.54" fill="#ececec" stroke="#000">S</tspan><tspan x="135.88" fill="#ececec" stroke="#000">S</tspan><tspan x="143.23" fill="#ececec" stroke="#000">A</tspan><tspan x="150.57" fill="#ececec" stroke="#000">F</tspan><tspan x="157.92" fill="#ececec" stroke="#000">Q</tspan><tspan x="165.26" fill="#ececec" stroke="#000">L</tspan><tspan x="172.61" fill="#000" stroke="#fff" stroke-width="0.15">V</tspan><tspan x="179.95" fill="#ececec" stroke="#000">G</tspan><tspan x="187.30" fill="#ececec" stroke="#000">G</tspan><tspan x="194.64" fill="#ececec" stroke="#000">K</tspan><tspan x="201.99" fill="#ececec" stroke="#000">V</tspan><tspan x="209.33" fill="#ececec" stroke="#000">A</tspan><tspan x="216.68" fill="#ececec" stroke="#000">G</tspan><tspan x="224.02" fill="#000" stroke="#fff" stroke-width="0.15">Q</tspan><tspan x="231.37" fill="#000" stroke="#fff" stroke-width="0.15">F</tspan><tspan x="238.71" fill="#ececec" stroke="#000">F</tspan><tspan x="246.06" fill="#000" stroke="#fff" stroke-width="0.15">S</tspan><tspan x="253.40" fill="#eeeeee" stroke="#8c8c8c">N</tspan><tspan x="260.75" fill="#ececec" stroke="#000">N</tspan><tspan x="268.10" fill="#eeeeee" stroke="#8c8c8c">S</tspan><tspan x="275.44" fill="#ececec" stroke="#000">I</tspan><tspan x="282.79" fill="#eeeeee" stroke="#8c8c8c">M</tspan><tspan x="290.13" fill="#ececec" stroke="#000">S</tspan><tspan x="297.48" fill="#ececec" stroke="#000">N</tspan><tspan x="304.82" fill="#ececec" stroke="#000">P</tspan><tspan x="312.17" fill="#ececec" stroke="#000">V</tspan><tspan x="319.51" fill="#ececec" stroke="#000">A</tspan><tspan x="326.86" fill="#ececec" stroke="#000">G</tspan><tspan x="334.20" fill="#ececec" stroke="#000">L</tspan><tspan x="341.55" fill="#ececec" stroke="#000">V</tspan><tspan x="348.89" fill="#ececec" stroke="#000">I</tspan><tspan x="356.24" fill="#ececec" stroke="#000">G</tspan><tspan x="363.58" fill="#eeeeee" stroke="#8c8c8c">V</tspan><tspan x="370.93" fill="#ececec" stroke="#000">L</tspan><tspan x="378.27" fill="#ececec" stroke="#000">V</tspan><tspan x="385.62" fill="#ececec" stroke="#000">T</tspan><tspan x="392.96" fill="#eeeeee" stroke="#8c8c8c">L</tspan><tspan x="400.31" fill="#eeeeee" stroke="#8c8c8c">M</tspan></text>
</g>
<g transform="translate(12.30,0) scale(1.470,1)"><text y="617.95" x="0" font-family="Liberation Mono, monospace" font-size="11.80" font-weight="bold" fill="#111">mIIb</text></g>
<g transform="translate(104.80,0) scale(1.360,1)"><text y="617.95" x="0" font-family="Liberation Mono, monospace" font-size="11.80" fill="#555" text-anchor="end">102</text></g>
<g transform="translate(116.30,0) scale(1.420,1)">
<text y="633.30" font-family="Liberation Mono, monospace" font-size="11.80" text-anchor="middle" stroke-width="0.35"><tspan x="3.67" fill="#000" stroke="#fff" stroke-width="0.15">C</tspan><tspan x="11.02" fill="#000" stroke="#fff" stroke-width="0.15">G</tspan><tspan x="18.36" fill="#ececec" stroke="#000">L</tspan><tspan x="25.71" fill="#ececec" stroke="#000">L</tspan><tspan x="33.05" fill="#ececec" stroke="#000">G</tspan><tspan x="40.40" fill="#000" stroke="#fff" stroke-width="0.15">S</tspan><tspan x="47.74" fill="#ececec" stroke="#000">L</tspan><tspan x="55.09" fill="#ececec" stroke="#000">Y</tspan><tspan x="62.43" fill="#000" stroke="#fff" stroke-width="0.15">F</tspan><tspan x="69.78" fill="#ececec" stroke="#000">F</tspan><tspan x="77.12" fill="#eeeeee" stroke="#8c8c8c">I</tspan><tspan x="84.47" fill="#ececec" stroke="#000">C</tspan><tspan x="91.81" fill="#ececec" stroke="#000">S</tspan><tspan x="99.16" fill="#ececec" stroke="#000">L</tspan><tspan x="106.50" fill="#ececec" stroke="#000">D</tspan><tspan x="113.85" fill="#eeeeee" stroke="#8c8c8c">I</tspan><tspan x="121.19" fill="#ececec" stroke="#000">L</tspan><tspan x="128.54" fill="#ececec" stroke="#000">S</tspan><tspan x="135.88" fill="#ececec" stroke="#000">S</tspan><tspan x="143.23" fill="#ececec" stroke="#000">A</tspan><tspan x="150.57" fill="#ececec" stroke="#000">F</tspan><tspan x="157.92" fill="#ececec" stroke="#000">Q</tspan><tspan x="165.26" fill="#ececec" stroke="#000">L</tspan><tspan x="172.61" fill="#000" stroke="#fff" stroke-width="0.15">L</tspan><tspan x="179.95" fill="#ececec" stroke="#000">G</tspan><tspan x="187.30" fill="#000" stroke="#fff" stroke-width="0.15">S</tspan><tspan x="194.64" fill="#ececec" stroke="#000">K</tspan><tspan x="201.99" fill="#eeeeee" stroke="#8c8c8c">M</tspan><tspan x="209.33" fill="#ececec" stroke="#000">A</tspan><tspan x="216.68" fill="#ececec" stroke="#000">G</tspan><tspan x="224.02" fill="#ececec" stroke="#000">D</tspan><tspan x="231.37" fill="#ececec" stroke="#000">I</tspan><tspan x="238.71" fill="#ececec" stroke="#000">F</tspan><tspan x="246.06" fill="#ececec" stroke="#000">K</tspan><tspan x="253.40" fill="#ececec" stroke="#000">D</tspan><tspan x="260.75" fill="#ececec" stroke="#000">N</tspan><tspan x="268.10" fill="#000" stroke="#fff" stroke-width="0.15">V</tspan><tspan x="275.44" fill="#eeeeee" stroke="#8c8c8c">V</tspan><tspan x="282.79" fill="#ececec" stroke="#000">L</tspan><tspan x="290.13" fill="#ececec" stroke="#000">S</tspan><tspan x="297.48" fill="#ececec" stroke="#000">N</tspan><tspan x="304.82" fill="#ececec" stroke="#000">P</tspan><tspan x="312.17" fill="#ececec" stroke="#000">V</tspan><tspan x="319.51" fill="#ececec" stroke="#000">A</tspan><tspan x="326.86" fill="#ececec" stroke="#000">G</tspan><tspan x="334.20" fill="#ececec" stroke="#000">L</tspan><tspan x="341.55" fill="#ececec" stroke="#000">V</tspan><tspan x="348.89" fill="#ececec" stroke="#000">I</tspan><tspan x="356.24" fill="#ececec" stroke="#000">G</tspan><tspan x="363.58" fill="#eeeeee" stroke="#8c8c8c">V</tspan><tspan x="370.93" fill="#ececec" stroke="#000">L</tspan><tspan x="378.27" fill="#ececec" stroke="#000">V</tspan><tspan x="385.62" fill="#ececec" stroke="#000">T</tspan><tspan x="392.96" fill="#ececec" stroke="#000">V</tspan><tspan x="400.31" fill="#ececec" stroke="#000">L</tspan></text>
</g>
<g transform="translate(12.30,0) scale(1.470,1)"><text y="633.30" x="0" font-family="Liberation Mono, monospace" font-size="11.80" font-weight="bold" fill="#111">mIIc</text></g>
<g transform="translate(104.80,0) scale(1.360,1)"><text y="633.30" x="0" font-family="Liberation Mono, monospace" font-size="11.80" fill="#555" text-anchor="end">76</text></g>
<rect x="116.4" y="656.7" width="238.8" height="20.3" fill="#8c8c8c" stroke="#111" stroke-width="1.6"/>
<rect x="356.8" y="656.7" width="77.9" height="20.3" fill="#fff" stroke="#111" stroke-width="1.6"/>
<rect x="436.3" y="656.7" width="251.6" height="20.3" fill="#8c8c8c" stroke="#111" stroke-width="1.6"/>
<text x="215.0" y="673.4" font-size="16.6" font-weight="bold" fill="#fff" textLength="48.2" lengthAdjust="spacingAndGlyphs">TMD-7</text>
<text x="374.6" y="673.4" font-size="16.6" font-weight="bold" fill="#111" textLength="46.7" lengthAdjust="spacingAndGlyphs">ECL-4</text>
<text x="535.6" y="673.4" font-size="16.6" font-weight="bold" fill="#fff" textLength="48.8" lengthAdjust="spacingAndGlyphs">TMD-8</text>
<rect x="116.10" y="677.20" width="91.44" height="16.38" fill="#000"/>
<rect x="207.54" y="677.20" width="11.43" height="16.38" fill="#8c8c8c"/>
<rect x="218.97" y="677.20" width="68.58" height="16.38" fill="#000"/>
<rect x="310.41" y="677.20" width="34.29" height="16.38" fill="#000"/>
<rect x="344.70" y="677.20" width="11.43" height="16.38" fill="#8c8c8c"/>
<rect x="356.13" y="677.20" width="68.58" height="16.38" fill="#000"/>
<rect x="436.14" y="677.20" width="11.43" height="16.38" fill="#8c8c8c"/>
<rect x="447.57" y="677.20" width="45.72" height="16.38" fill="#000"/>
<rect x="504.72" y="677.20" width="22.86" height="16.38" fill="#000"/>
<rect x="539.01" y="677.20" width="11.43" height="16.38" fill="#8c8c8c"/>
<rect x="550.44" y="677.20" width="22.86" height="16.38" fill="#000"/>
<rect x="584.73" y="677.20" width="22.86" height="16.38" fill="#000"/>
<rect x="607.59" y="677.20" width="11.43" height="16.38" fill="#8c8c8c"/>
<rect x="619.02" y="677.20" width="68.58" height="16.38" fill="#000"/>
<rect x="116.10" y="692.78" width="91.44" height="16.38" fill="#000"/>
<rect x="207.54" y="692.78" width="11.43" height="16.38" fill="#8c8c8c"/>
<rect x="218.97" y="692.78" width="68.58" height="16.38" fill="#000"/>
<rect x="310.41" y="692.78" width="34.29" height="16.38" fill="#000"/>
<rect x="344.70" y="692.78" width="11.43" height="16.38" fill="#8c8c8c"/>
<rect x="356.13" y="692.78" width="68.58" height="16.38" fill="#000"/>
<rect x="436.14" y="692.78" width="11.43" height="16.38" fill="#8c8c8c"/>
<rect x="447.57" y="692.78" width="45.72" height="16.38" fill="#000"/>
<rect x="504.72" y="692.78" width="22.86" height="16.38" fill="#000"/>
<rect x="539.01" y="692.78" width="11.43" height="16.38" fill="#8c8c8c"/>
<rect x="550.44" y="692.78" width="22.86" height="16.38" fill="#000"/>
<rect x="584.73" y="692.78" width="22.86" height="16.38" fill="#000"/>
<rect x="607.59" y="692.78" width="11.43" height="16.38" fill="#8c8c8c"/>
<rect x="619.02" y="692.78" width="68.58" height="16.38" fill="#000"/>
<rect x="116.10" y="708.36" width="91.44" height="16.38" fill="#000"/>
<rect x="207.54" y="708.36" width="11.43" height="16.38" fill="#8c8c8c"/>
<rect x="218.97" y="708.36" width="68.58" height="16.38" fill="#000"/>
<rect x="310.41" y="708.36" width="34.29" height="16.38" fill="#000"/>
<rect x="344.70" y="708.36" width="11.43" height="16.38" fill="#8c8c8c"/>
<rect x="356.13" y="708.36" width="80.01" height="16.38" fill="#000"/>
<rect x="436.14" y="708.36" width="11.43" height="16.38" fill="#8c8c8c"/>
<rect x="447.57" y="708.36" width="45.72" height="16.38" fill="#000"/>
<rect x="504.72" y="708.36" width="22.86" height="16.38" fill="#000"/>
<rect x="539.01" y="708.36" width="11.43" height="16.38" fill="#8c8c8c"/>
<rect x="550.44" y="708.36" width="22.86" height="16.38" fill="#000"/>
<rect x="584.73" y="708.36" width="22.86" height="16.38" fill="#000"/>
<rect x="607.59" y="708.36" width="11.43" height="16.38" fill="#8c8c8c"/>
<rect x="619.02" y="708.36" width="11.43" height="16.38" fill="#000"/>
<rect x="630.45" y="708.36" width="11.43" height="16.38" fill="#8c8c8c"/>
<rect x="641.88" y="708.36" width="45.72" height="16.38" fill="#000"/>
<rect x="116.10" y="723.94" width="45.72" height="16.38" fill="#000"/>
<rect x="173.25" y="723.94" width="22.86" height="16.38" fill="#000"/>
<rect x="196.11" y="723.94" width="11.43" height="16.38" fill="#8c8c8c"/>
<rect x="230.40" y="723.94" width="11.43" height="16.38" fill="#000"/>
<rect x="253.26" y="723.94" width="11.43" height="16.38" fill="#8c8c8c"/>
<rect x="276.12" y="723.94" width="11.43" height="16.38" fill="#000"/>
<rect x="310.41" y="723.94" width="57.15" height="16.38" fill="#000"/>
<rect x="367.56" y="723.94" width="11.43" height="16.38" fill="#8c8c8c"/>
<rect x="378.99" y="723.94" width="34.29" height="16.38" fill="#000"/>
<rect x="424.71" y="723.94" width="11.43" height="16.38" fill="#000"/>
<rect x="436.14" y="723.94" width="11.43" height="16.38" fill="#8c8c8c"/>
<rect x="447.57" y="723.94" width="45.72" height="16.38" fill="#000"/>
<rect x="504.72" y="723.94" width="11.43" height="16.38" fill="#000"/>
<rect x="550.44" y="723.94" width="22.86" height="16.38" fill="#000"/>
<rect x="596.16" y="723.94" width="11.43" height="16.38" fill="#000"/>
<rect x="607.59" y="723.94" width="11.43" height="16.38" fill="#8c8c8c"/>
<rect x="630.45" y="723.94" width="11.43" height="16.38" fill="#8c8c8c"/>
<rect x="653.31" y="723.94" width="11.43" height="16.38" fill="#8c8c8c"/>
<rect x="664.74" y="723.94" width="22.86" height="16.38" fill="#000"/>
<rect x="116.10" y="739.52" width="11.43" height="20.00" fill="#000"/>
<rect x="138.96" y="739.52" width="11.43" height="20.00" fill="#000"/>
<rect x="150.39" y="739.52" width="22.86" height="20.00" fill="#8c8c8c"/>
<rect x="173.25" y="739.52" width="34.29" height="20.00" fill="#000"/>
<rect x="207.54" y="739.52" width="11.43" height="20.00" fill="#8c8c8c"/>
<rect x="230.40" y="739.52" width="57.15" height="20.00" fill="#000"/>
<rect x="321.84" y="739.52" width="45.72" height="20.00" fill="#000"/>
<rect x="367.56" y="739.52" width="11.43" height="20.00" fill="#8c8c8c"/>
<rect x="378.99" y="739.52" width="22.86" height="20.00" fill="#000"/>
<rect x="436.14" y="739.52" width="11.43" height="20.00" fill="#8c8c8c"/>
<rect x="459.00" y="739.52" width="11.43" height="20.00" fill="#8c8c8c"/>
<rect x="470.43" y="739.52" width="22.86" height="20.00" fill="#000"/>
<rect x="504.72" y="739.52" width="11.43" height="20.00" fill="#000"/>
<rect x="539.01" y="739.52" width="11.43" height="20.00" fill="#8c8c8c"/>
<rect x="561.87" y="739.52" width="11.43" height="20.00" fill="#8c8c8c"/>
<rect x="596.16" y="739.52" width="22.86" height="20.00" fill="#8c8c8c"/>
<rect x="619.02" y="739.52" width="68.58" height="20.00" fill="#000"/>
<g transform="translate(116.10,0) scale(1.570,1)">
<text y="689.50" font-family="Liberation Mono, monospace" font-size="12.30" text-anchor="middle" stroke-width="0.35"><tspan x="3.64" fill="#ececec" stroke="#000">W</tspan><tspan x="10.92" fill="#ececec" stroke="#000">F</tspan><tspan x="18.20" fill="#ececec" stroke="#000">A</tspan><tspan x="25.48" fill="#ececec" stroke="#000">V</tspan><tspan x="32.76" fill="#ececec" stroke="#000">L</tspan><tspan x="40.04" fill="#ececec" stroke="#000">Y</tspan><tspan x="47.32" fill="#ececec" stroke="#000">L</tspan><tspan x="54.60" fill="#ececec" stroke="#000">L</tspan><tspan x="61.88" fill="#eeeeee" stroke="#8c8c8c">V</tspan><tspan x="69.16" fill="#ececec" stroke="#000">C</tspan><tspan x="76.44" fill="#ececec" stroke="#000">F</tspan><tspan x="83.72" fill="#ececec" stroke="#000">L</tspan><tspan x="91.00" fill="#ececec" stroke="#000">L</tspan><tspan x="98.28" fill="#ececec" stroke="#000">L</tspan><tspan x="105.56" fill="#ececec" stroke="#000">P</tspan><tspan x="112.84" fill="#000" stroke="#fff" stroke-width="0.15">S</tspan><tspan x="120.12" fill="#000" stroke="#fff" stroke-width="0.15">L</tspan><tspan x="127.40" fill="#ececec" stroke="#000">V</tspan><tspan x="134.68" fill="#ececec" stroke="#000">F</tspan><tspan x="141.96" fill="#ececec" stroke="#000">G</tspan><tspan x="149.25" fill="#eeeeee" stroke="#8c8c8c">I</tspan><tspan x="156.53" fill="#ececec" stroke="#000" font-weight="bold" stroke-width="0">S</tspan><tspan x="163.81" fill="#ececec" stroke="#000" font-weight="bold" stroke-width="0">M</tspan><tspan x="171.09" fill="#ececec" stroke="#000" font-weight="bold" stroke-width="0">A</tspan><tspan x="178.37" fill="#ececec" stroke="#000" font-weight="bold" stroke-width="0">G</tspan><tspan x="185.65" fill="#ececec" stroke="#000" font-weight="bold" stroke-width="0">W</tspan><tspan x="192.93" fill="#ececec" stroke="#000" font-weight="bold" stroke-width="0">Q</tspan><tspan x="200.21" fill="#000" stroke="#fff" font-weight="bold" stroke-width="0">A</tspan><tspan x="207.49" fill="#eeeeee" stroke="#8c8c8c">M</tspan><tspan x="214.77" fill="#ececec" stroke="#000">V</tspan><tspan x="222.05" fill="#ececec" stroke="#000">G</tspan><tspan x="229.33" fill="#ececec" stroke="#000">V</tspan><tspan x="236.61" fill="#ececec" stroke="#000">G</tspan><tspan x="243.89" fill="#000" stroke="#fff" stroke-width="0.15">T</tspan><tspan x="251.17" fill="#ececec" stroke="#000">P</tspan><tspan x="258.45" fill="#ececec" stroke="#000">F</tspan><tspan x="265.73" fill="#000" stroke="#fff" stroke-width="0.15">G</tspan><tspan x="273.01" fill="#eeeeee" stroke="#8c8c8c">A</tspan><tspan x="280.29" fill="#ececec" stroke="#000">L</tspan><tspan x="287.57" fill="#ececec" stroke="#000">L</tspan><tspan x="294.85" fill="#000" stroke="#fff" stroke-width="0.15">A</tspan><tspan x="302.13" fill="#ececec" stroke="#000">F</tspan><tspan x="309.41" fill="#ececec" stroke="#000">V</tspan><tspan x="316.69" fill="#eeeeee" stroke="#8c8c8c">V</tspan><tspan x="323.97" fill="#ececec" stroke="#000">L</tspan><tspan x="331.25" fill="#ececec" stroke="#000">V</tspan><tspan x="338.53" fill="#ececec" stroke="#000">N</tspan><tspan x="345.81" fill="#ececec" stroke="#000">V</tspan><tspan x="353.09" fill="#ececec" stroke="#000">L</tspan><tspan x="360.37" fill="#ececec" stroke="#000">Q</tspan></text>
</g>
<g transform="translate(1.00,0) scale(1.550,1)"><text y="689.50" x="0" font-family="Liberation Mono, monospace" font-size="12.30" font-weight="bold" fill="#111">rIIa</text></g>
<g transform="translate(102.80,0) scale(1.490,1)"><text y="689.50" x="0" font-family="Liberation Mono, monospace" font-size="12.30" fill="#555" text-anchor="end">511</text></g>
<g transform="translate(116.10,0) scale(1.570,1)">
<text y="704.85" font-family="Liberation Mono, monospace" font-size="12.30" text-anchor="middle" stroke-width="0.35"><tspan x="3.64" fill="#ececec" stroke="#000">W</tspan><tspan x="10.92" fill="#ececec" stroke="#000">F</tspan><tspan x="18.20" fill="#ececec" stroke="#000">A</tspan><tspan x="25.48" fill="#ececec" stroke="#000">V</tspan><tspan x="32.76" fill="#ececec" stroke="#000">L</tspan><tspan x="40.04" fill="#ececec" stroke="#000">Y</tspan><tspan x="47.32" fill="#ececec" stroke="#000">L</tspan><tspan x="54.60" fill="#ececec" stroke="#000">L</tspan><tspan x="61.88" fill="#eeeeee" stroke="#8c8c8c">V</tspan><tspan x="69.16" fill="#ececec" stroke="#000">C</tspan><tspan x="76.44" fill="#ececec" stroke="#000">F</tspan><tspan x="83.72" fill="#ececec" stroke="#000">L</tspan><tspan x="91.00" fill="#ececec" stroke="#000">L</tspan><tspan x="98.28" fill="#ececec" stroke="#000">L</tspan><tspan x="105.56" fill="#ececec" stroke="#000">P</tspan><tspan x="112.84" fill="#000" stroke="#fff" stroke-width="0.15">S</tspan><tspan x="120.12" fill="#000" stroke="#fff" stroke-width="0.15">L</tspan><tspan x="127.40" fill="#ececec" stroke="#000">V</tspan><tspan x="134.68" fill="#ececec" stroke="#000">F</tspan><tspan x="141.96" fill="#ececec" stroke="#000">G</tspan><tspan x="149.25" fill="#eeeeee" stroke="#8c8c8c">I</tspan><tspan x="156.53" fill="#ececec" stroke="#000">S</tspan><tspan x="163.81" fill="#ececec" stroke="#000">M</tspan><tspan x="171.09" fill="#ececec" stroke="#000">A</tspan><tspan x="178.37" fill="#ececec" stroke="#000">G</tspan><tspan x="185.65" fill="#ececec" stroke="#000">W</tspan><tspan x="192.93" fill="#ececec" stroke="#000">Q</tspan><tspan x="200.21" fill="#000" stroke="#fff" stroke-width="0.15">A</tspan><tspan x="207.49" fill="#eeeeee" stroke="#8c8c8c">M</tspan><tspan x="214.77" fill="#ececec" stroke="#000">V</tspan><tspan x="222.05" fill="#ececec" stroke="#000">G</tspan><tspan x="229.33" fill="#ececec" stroke="#000">V</tspan><tspan x="236.61" fill="#ececec" stroke="#000">G</tspan><tspan x="243.89" fill="#000" stroke="#fff" stroke-width="0.15">T</tspan><tspan x="251.17" fill="#ececec" stroke="#000">P</tspan><tspan x="258.45" fill="#ececec" stroke="#000">F</tspan><tspan x="265.73" fill="#000" stroke="#fff" stroke-width="0.15">G</tspan><tspan x="273.01" fill="#eeeeee" stroke="#8c8c8c">A</tspan><tspan x="280.29" fill="#ececec" stroke="#000">L</tspan><tspan x="287.57" fill="#ececec" stroke="#000">L</tspan><tspan x="294.85" fill="#000" stroke="#fff" stroke-width="0.15">A</tspan><tspan x="302.13" fill="#ececec" stroke="#000">F</tspan><tspan x="309.41" fill="#ececec" stroke="#000">V</tspan><tspan x="316.69" fill="#eeeeee" stroke="#8c8c8c">V</tspan><tspan x="323.97" fill="#ececec" stroke="#000">L</tspan><tspan x="331.25" fill="#ececec" stroke="#000">V</tspan><tspan x="338.53" fill="#ececec" stroke="#000">N</tspan><tspan x="345.81" fill="#ececec" stroke="#000">V</tspan><tspan x="353.09" fill="#ececec" stroke="#000">L</tspan><tspan x="360.37" fill="#ececec" stroke="#000">Q</tspan></text>
</g>
<g transform="translate(1.00,0) scale(1.550,1)"><text y="704.85" x="0" font-family="Liberation Mono, monospace" font-size="12.30" font-weight="bold" fill="#111">mIIa</text></g>
<g transform="translate(102.80,0) scale(1.490,1)"><text y="704.85" x="0" font-family="Liberation Mono, monospace" font-size="12.30" fill="#555" text-anchor="end">511</text></g>
<g transform="translate(116.10,0) scale(1.570,1)">
<text y="720.20" font-family="Liberation Mono, monospace" font-size="12.30" text-anchor="middle" stroke-width="0.35"><tspan x="3.64" fill="#ececec" stroke="#000">W</tspan><tspan x="10.92" fill="#ececec" stroke="#000">F</tspan><tspan x="18.20" fill="#ececec" stroke="#000">A</tspan><tspan x="25.48" fill="#ececec" stroke="#000">V</tspan><tspan x="32.76" fill="#ececec" stroke="#000">L</tspan><tspan x="40.04" fill="#ececec" stroke="#000">Y</tspan><tspan x="47.32" fill="#ececec" stroke="#000">L</tspan><tspan x="54.60" fill="#ececec" stroke="#000">L</tspan><tspan x="61.88" fill="#eeeeee" stroke="#8c8c8c">V</tspan><tspan x="69.16" fill="#ececec" stroke="#000">C</tspan><tspan x="76.44" fill="#ececec" stroke="#000">F</tspan><tspan x="83.72" fill="#ececec" stroke="#000">L</tspan><tspan x="91.00" fill="#ececec" stroke="#000">L</tspan><tspan x="98.28" fill="#ececec" stroke="#000">L</tspan><tspan x="105.56" fill="#ececec" stroke="#000">P</tspan><tspan x="112.84" fill="#000" stroke="#fff" stroke-width="0.15">S</tspan><tspan x="120.12" fill="#000" stroke="#fff" stroke-width="0.15">L</tspan><tspan x="127.40" fill="#ececec" stroke="#000">V</tspan><tspan x="134.68" fill="#ececec" stroke="#000">F</tspan><tspan x="141.96" fill="#ececec" stroke="#000">G</tspan><tspan x="149.25" fill="#eeeeee" stroke="#8c8c8c">I</tspan><tspan x="156.53" fill="#ececec" stroke="#000">S</tspan><tspan x="163.81" fill="#ececec" stroke="#000">M</tspan><tspan x="171.09" fill="#ececec" stroke="#000">A</tspan><tspan x="178.37" fill="#ececec" stroke="#000">G</tspan><tspan x="185.65" fill="#ececec" stroke="#000">W</tspan><tspan x="192.93" fill="#ececec" stroke="#000">Q</tspan><tspan x="200.21" fill="#ececec" stroke="#000">V</tspan><tspan x="207.49" fill="#eeeeee" stroke="#8c8c8c">M</tspan><tspan x="214.77" fill="#ececec" stroke="#000">V</tspan><tspan x="222.05" fill="#ececec" stroke="#000">G</tspan><tspan x="229.33" fill="#ececec" stroke="#000">V</tspan><tspan x="236.61" fill="#ececec" stroke="#000">G</tspan><tspan x="243.89" fill="#000" stroke="#fff" stroke-width="0.15">T</tspan><tspan x="251.17" fill="#ececec" stroke="#000">P</tspan><tspan x="258.45" fill="#ececec" stroke="#000">F</tspan><tspan x="265.73" fill="#000" stroke="#fff" stroke-width="0.15">G</tspan><tspan x="273.01" fill="#eeeeee" stroke="#8c8c8c">A</tspan><tspan x="280.29" fill="#ececec" stroke="#000">L</tspan><tspan x="287.57" fill="#ececec" stroke="#000">L</tspan><tspan x="294.85" fill="#000" stroke="#fff" stroke-width="0.15">A</tspan><tspan x="302.13" fill="#ececec" stroke="#000">F</tspan><tspan x="309.41" fill="#ececec" stroke="#000">V</tspan><tspan x="316.69" fill="#eeeeee" stroke="#8c8c8c">V</tspan><tspan x="323.97" fill="#ececec" stroke="#000">L</tspan><tspan x="331.25" fill="#eeeeee" stroke="#8c8c8c">I</tspan><tspan x="338.53" fill="#ececec" stroke="#000">N</tspan><tspan x="345.81" fill="#ececec" stroke="#000">V</tspan><tspan x="353.09" fill="#ececec" stroke="#000">L</tspan><tspan x="360.37" fill="#ececec" stroke="#000">Q</tspan></text>
</g>
<g transform="translate(1.00,0) scale(1.550,1)"><text y="720.20" x="0" font-family="Liberation Mono, monospace" font-size="12.30" font-weight="bold" fill="#111">hIIa</text></g>
<g transform="translate(102.80,0) scale(1.490,1)"><text y="720.20" x="0" font-family="Liberation Mono, monospace" font-size="12.30" fill="#555" text-anchor="end">513</text></g>
<g transform="translate(116.10,0) scale(1.570,1)">
<text y="735.55" font-family="Liberation Mono, monospace" font-size="12.30" text-anchor="middle" stroke-width="0.35"><tspan x="3.64" fill="#ececec" stroke="#000">W</tspan><tspan x="10.92" fill="#ececec" stroke="#000">F</tspan><tspan x="18.20" fill="#ececec" stroke="#000">A</tspan><tspan x="25.48" fill="#ececec" stroke="#000">V</tspan><tspan x="32.76" fill="#000" stroke="#fff" stroke-width="0.15">F</tspan><tspan x="40.04" fill="#ececec" stroke="#000">Y</tspan><tspan x="47.32" fill="#ececec" stroke="#000">L</tspan><tspan x="54.60" fill="#eeeeee" stroke="#8c8c8c">I</tspan><tspan x="61.88" fill="#000" stroke="#fff" stroke-width="0.15">F</tspan><tspan x="69.16" fill="#000" stroke="#fff" stroke-width="0.15">F</tspan><tspan x="76.44" fill="#ececec" stroke="#000">F</tspan><tspan x="83.72" fill="#000" stroke="#fff" stroke-width="0.15">F</tspan><tspan x="91.00" fill="#eeeeee" stroke="#8c8c8c">V</tspan><tspan x="98.28" fill="#000" stroke="#fff" stroke-width="0.15">T</tspan><tspan x="105.56" fill="#ececec" stroke="#000">P</tspan><tspan x="112.84" fill="#000" stroke="#fff" stroke-width="0.15">L</tspan><tspan x="120.12" fill="#000" stroke="#fff" stroke-width="0.15">T</tspan><tspan x="127.40" fill="#ececec" stroke="#000">V</tspan><tspan x="134.68" fill="#ececec" stroke="#000">F</tspan><tspan x="141.96" fill="#ececec" stroke="#000">G</tspan><tspan x="149.25" fill="#ececec" stroke="#000">L</tspan><tspan x="156.53" fill="#ececec" stroke="#000">S</tspan><tspan x="163.81" fill="#eeeeee" stroke="#8c8c8c">L</tspan><tspan x="171.09" fill="#ececec" stroke="#000">A</tspan><tspan x="178.37" fill="#ececec" stroke="#000">G</tspan><tspan x="185.65" fill="#ececec" stroke="#000">W</tspan><tspan x="192.93" fill="#000" stroke="#fff" stroke-width="0.15">P</tspan><tspan x="200.21" fill="#ececec" stroke="#000">V</tspan><tspan x="207.49" fill="#eeeeee" stroke="#8c8c8c">L</tspan><tspan x="214.77" fill="#ececec" stroke="#000">V</tspan><tspan x="222.05" fill="#ececec" stroke="#000">G</tspan><tspan x="229.33" fill="#ececec" stroke="#000">V</tspan><tspan x="236.61" fill="#ececec" stroke="#000">G</tspan><tspan x="243.89" fill="#000" stroke="#fff" stroke-width="0.15">V</tspan><tspan x="251.17" fill="#ececec" stroke="#000">P</tspan><tspan x="258.45" fill="#000" stroke="#fff" stroke-width="0.15">I</tspan><tspan x="265.73" fill="#000" stroke="#fff" stroke-width="0.15">I</tspan><tspan x="273.01" fill="#000" stroke="#fff" stroke-width="0.15">L</tspan><tspan x="280.29" fill="#ececec" stroke="#000">L</tspan><tspan x="287.57" fill="#ececec" stroke="#000">L</tspan><tspan x="294.85" fill="#000" stroke="#fff" stroke-width="0.15">L</tspan><tspan x="302.13" fill="#000" stroke="#fff" stroke-width="0.15">L</tspan><tspan x="309.41" fill="#ececec" stroke="#000">V</tspan><tspan x="316.69" fill="#eeeeee" stroke="#8c8c8c">L</tspan><tspan x="323.97" fill="#000" stroke="#fff" stroke-width="0.15">C</tspan><tspan x="331.25" fill="#eeeeee" stroke="#8c8c8c">L</tspan><tspan x="338.53" fill="#000" stroke="#fff" stroke-width="0.15">R</tspan><tspan x="345.81" fill="#eeeeee" stroke="#8c8c8c">M</tspan><tspan x="353.09" fill="#ececec" stroke="#000">L</tspan><tspan x="360.37" fill="#ececec" stroke="#000">Q</tspan></text>
</g>
<g transform="translate(1.00,0) scale(1.550,1)"><text y="735.55" x="0" font-family="Liberation Mono, monospace" font-size="12.30" font-weight="bold" fill="#111">mIIb</text></g>
<g transform="translate(102.80,0) scale(1.490,1)"><text y="735.55" x="0" font-family="Liberation Mono, monospace" font-size="12.30" fill="#555" text-anchor="end">527</text></g>
<g transform="translate(116.10,0) scale(1.570,1)">
<text y="750.90" font-family="Liberation Mono, monospace" font-size="12.30" text-anchor="middle" stroke-width="0.35"><tspan x="3.64" fill="#ececec" stroke="#000">W</tspan><tspan x="10.92" fill="#000" stroke="#fff" stroke-width="0.15">V</tspan><tspan x="18.20" fill="#ececec" stroke="#000">A</tspan><tspan x="25.48" fill="#eeeeee" stroke="#8c8c8c">I</tspan><tspan x="32.76" fill="#eeeeee" stroke="#8c8c8c">V</tspan><tspan x="40.04" fill="#ececec" stroke="#000">Y</tspan><tspan x="47.32" fill="#ececec" stroke="#000">L</tspan><tspan x="54.60" fill="#ececec" stroke="#000">L</tspan><tspan x="61.88" fill="#eeeeee" stroke="#8c8c8c">L</tspan><tspan x="69.16" fill="#000" stroke="#fff" stroke-width="0.15">T</tspan><tspan x="76.44" fill="#ececec" stroke="#000">F</tspan><tspan x="83.72" fill="#ececec" stroke="#000">L</tspan><tspan x="91.00" fill="#ececec" stroke="#000">L</tspan><tspan x="98.28" fill="#ececec" stroke="#000">L</tspan><tspan x="105.56" fill="#ececec" stroke="#000">P</tspan><tspan x="112.84" fill="#000" stroke="#fff" stroke-width="0.15">L</tspan><tspan x="120.12" fill="#000" stroke="#fff" stroke-width="0.15">A</tspan><tspan x="127.40" fill="#000" stroke="#fff" stroke-width="0.15">A</tspan><tspan x="134.68" fill="#ececec" stroke="#000">F</tspan><tspan x="141.96" fill="#ececec" stroke="#000">G</tspan><tspan x="149.25" fill="#ececec" stroke="#000">L</tspan><tspan x="156.53" fill="#ececec" stroke="#000">S</tspan><tspan x="163.81" fill="#eeeeee" stroke="#8c8c8c">L</tspan><tspan x="171.09" fill="#ececec" stroke="#000">A</tspan><tspan x="178.37" fill="#ececec" stroke="#000">G</tspan><tspan x="185.65" fill="#000" stroke="#fff" stroke-width="0.15">G</tspan><tspan x="192.93" fill="#000" stroke="#fff" stroke-width="0.15">T</tspan><tspan x="200.21" fill="#000" stroke="#fff" stroke-width="0.15">V</tspan><tspan x="207.49" fill="#eeeeee" stroke="#8c8c8c">L</tspan><tspan x="214.77" fill="#000" stroke="#fff" stroke-width="0.15">A</tspan><tspan x="222.05" fill="#eeeeee" stroke="#8c8c8c">A</tspan><tspan x="229.33" fill="#ececec" stroke="#000">V</tspan><tspan x="236.61" fill="#ececec" stroke="#000">G</tspan><tspan x="243.89" fill="#000" stroke="#fff" stroke-width="0.15">G</tspan><tspan x="251.17" fill="#ececec" stroke="#000">P</tspan><tspan x="258.45" fill="#000" stroke="#fff" stroke-width="0.15">L</tspan><tspan x="265.73" fill="#000" stroke="#fff" stroke-width="0.15">V</tspan><tspan x="273.01" fill="#eeeeee" stroke="#8c8c8c">G</tspan><tspan x="280.29" fill="#000" stroke="#fff" stroke-width="0.15">L</tspan><tspan x="287.57" fill="#eeeeee" stroke="#8c8c8c">V</tspan><tspan x="294.85" fill="#000" stroke="#fff" stroke-width="0.15">L</tspan><tspan x="302.13" fill="#000" stroke="#fff" stroke-width="0.15">L</tspan><tspan x="309.41" fill="#eeeeee" stroke="#8c8c8c">I</tspan><tspan x="316.69" fill="#eeeeee" stroke="#8c8c8c">I</tspan><tspan x="323.97" fill="#ececec" stroke="#000">L</tspan><tspan x="331.25" fill="#ececec" stroke="#000">V</tspan><tspan x="338.53" fill="#ececec" stroke="#000">N</tspan><tspan x="345.81" fill="#ececec" stroke="#000">V</tspan><tspan x="353.09" fill="#ececec" stroke="#000">L</tspan><tspan x="360.37" fill="#ececec" stroke="#000">Q</tspan></text>
</g>
<g transform="translate(1.00,0) scale(1.550,1)"><text y="750.90" x="0" font-family="Liberation Mono, monospace" font-size="12.30" font-weight="bold" fill="#111">mIIc</text></g>
<g transform="translate(102.80,0) scale(1.490,1)"><text y="750.90" x="0" font-family="Liberation Mono, monospace" font-size="12.30" fill="#555" text-anchor="end">488</text></g>
</svg>
</body></html>
